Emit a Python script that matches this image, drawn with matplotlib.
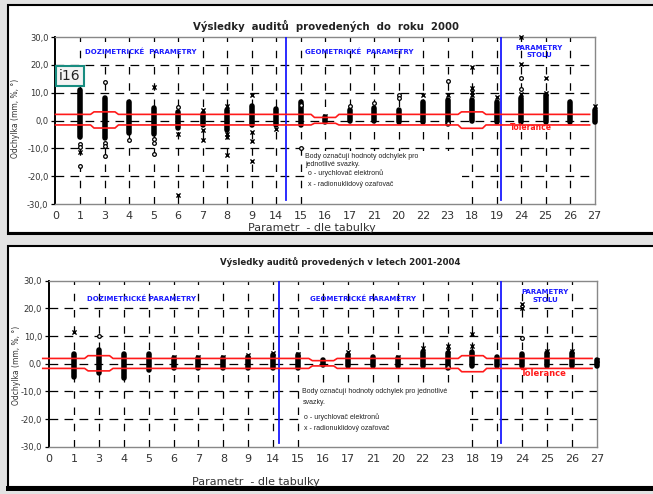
import matplotlib.pyplot as plt
from matplotlib.patches import Rectangle

W, H = 653, 494

labels = ["0", "1", "3", "4", "5", "6", "7", "8", "9", "14", "15", "16",
          "17", "21", "20", "22", "23", "18", "19", "24", "25", "26", "27"]
yticks = [-30, -20, -10, 0, 10, 20, 30]
ytick_labels = ["-30,0", "-20,0", "-10,0", "0,0", "10,0", "20,0", "30,0"]

# --- audits up to 2000 (columns 1..22 = labels[1:]) ---
top_lo = [-5.8, -6.4, -4.6, -5.0, -2.8, -1.6, -3.4, -1.6, -1.6, -1.6, -0.4,
          -0.2, -0.2, -0.4, -0.4, -1.3, -0.2, -0.4, -0.6, -0.4, -0.6, -0.4]
top_hi = [11.0, 8.0, 6.5, 4.6, 3.2, 2.2, 3.8, 5.3, 4.3, 6.5, 1.4,
          3.8, 4.6, 3.8, 6.5, 7.4, 7.4, 6.5, 8.0, 9.2, 6.5, 3.8]
top_o = [(1, -8.6), (1, -9.4), (1, -16.4), (2, 13.9), (2, -8.0), (2, -9.0),
         (2, -12.6), (3, -7.0), (4, -6.5), (4, -8.0), (4, -12.1), (5, 5.0),
         (10, 5.5), (10, -9.8), (12, 5.3), (13, 6.2), (14, 9.2), (14, 8.0),
         (16, 14.3), (16, -1.0), (19, 15.2), (19, 11.3)]
top_x = [(1, -11.2), (4, 11.9), (5, -5.0), (5, -26.8), (6, 3.8), (6, -3.4),
         (6, -7.0), (7, 5.3), (7, -5.0), (7, -6.0), (7, -12.4), (8, 9.2),
         (8, -4.0), (8, -7.4), (8, -14.4), (9, -3.0), (11, 1.7), (15, 9.2),
         (16, 9.2), (17, 19.1), (17, 11.5), (17, 10.3), (17, 9.2), (18, 8.6),
         (19, 30.0), (19, 20.2), (19, 9.4), (20, 15.4), (20, 10.0), (22, 5.3)]
top_tol_hi = [2.2, 3.1, 2.2, 2.2, 2.2, 2.2, 2.2, 2.2, 2.2, 2.2, 1.1,
              2.2, 2.2, 2.2, 2.2, 2.2, 3.1, 2.2, 2.2, 2.2, 2.2, 2.2]
top_tol_lo = [-1.6, -2.7, -1.6, -1.6, -1.6, -1.6, -1.6, -1.6, -1.6, -1.6, -1.0,
              -1.6, -1.6, -1.6, -1.6, -1.6, -2.8, -1.6, -1.6, -1.6, -1.6, -1.6]

# --- audits 2001-2004 ---
bot_lo = [-4.7, -3.5, -5.3, -2.3, -1.7, -1.7, -1.7, -1.7, -1.5, -1.7, -0.5,
          -0.9, -0.9, -0.9, -0.9, -1.5, -0.7, -0.9, -0.9, -0.9, -0.9, -0.9]
bot_hi = [3.4, 4.9, 3.4, 3.4, 1.9, 1.9, 1.9, 2.5, 3.1, 3.1, 1.3,
          3.0, 2.5, 1.9, 4.3, 3.7, 4.3, 2.3, 3.4, 3.7, 3.9, 1.3]
bot_o = [(2, 9.9), (19, 9.2), (16, -1.2)]
bot_x = [(1, 11.6), (5, 2.5), (6, 2.5), (7, 2.5), (8, 3.1), (9, 4.0),
         (10, 3.6), (12, 4.3), (14, 2.5), (15, 5.6), (16, 6.4), (16, 5.0),
         (17, 10.6), (17, 6.4), (19, 21.5), (19, 20.0), (20, 4.6), (21, 4.6),
         (22, 1.3)]
bot_tol_hi = [1.9, 2.9, 1.9, 1.9, 1.9, 1.9, 1.9, 1.9, 1.9, 1.9, 1.1,
              1.9, 1.9, 1.9, 1.9, 1.9, 2.9, 1.9, 1.9, 1.9, 1.9, 1.9]
bot_tol_lo = [-1.7, -2.6, -1.7, -1.7, -1.7, -1.7, -1.7, -1.7, -1.7, -1.7, -0.8,
              -1.7, -1.7, -1.7, -1.7, -1.7, -2.9, -1.7, -1.7, -1.7, -1.7, -1.7]

BLUE = "#1a1aff"
RED = "#ff1a1a"


def fx(x):
    return x / W


def fy(y):
    return 1 - y / H


def tol_path(vals, start, end):
    xs, ys = [start], [vals[0]]
    for i in range(1, len(vals)):
        b = i + 0.5
        if vals[i] != vals[i - 1]:
            xs += [b - 0.07, b + 0.07]
            ys += [vals[i - 1], vals[i]]
    xs.append(end)
    ys.append(vals[-1])
    return xs, ys


def draw(ax, lo, hi, o_pts, x_pts, tol_hi, tol_lo, blue, box, tol_start):
    ax.set_xlim(0, 22)
    ax.set_ylim(-30, 30)
    for y in [-20, -10, 0, 10, 20]:
        ax.axhline(y, color="black", lw=0.9, ls=(0, (7, 5)), zorder=1)
    for i in range(1, 22):
        ax.axvline(i, color="black", lw=0.9, ls=(0, (6, 7)), zorder=1)
    ax.add_patch(Rectangle((box[0], box[2]), box[1] - box[0], box[3] - box[2],
                           facecolor="white", edgecolor="none", zorder=2))
    for b in blue:
        ax.plot([b, b], [-28.5, 30], color=BLUE, lw=1.3, zorder=3)
    cols = list(range(1, 23))
    ax.vlines(cols, lo, hi, color="black", lw=4.0, capstyle="round", zorder=4,
              clip_on=False)
    ax.scatter([p[0] for p in o_pts], [p[1] for p in o_pts], marker="o", s=7,
               facecolors="white", edgecolors="black", linewidths=0.9, zorder=5,
               clip_on=False)
    ax.scatter([p[0] for p in x_pts], [p[1] for p in x_pts], marker="x", s=9,
               color="black", linewidths=1.0, zorder=5, clip_on=False)
    for vals in (tol_hi, tol_lo):
        xs, ys = tol_path(vals, tol_start, 21.8)
        ax.plot(xs, ys, color=RED, lw=1.2, zorder=6, clip_on=False)
    ax.set_xticks(range(23))
    ax.set_xticklabels(labels, fontsize=8, color="#333333")
    ax.set_yticks(yticks)
    ax.set_yticklabels(ytick_labels, fontsize=6, color="#333333")
    ax.tick_params(axis="x", length=0, pad=5)
    ax.tick_params(axis="y", length=3, width=0.9, pad=2)
    for s in ["top", "right", "bottom"]:
        ax.spines[s].set_color("#888888")
        ax.spines[s].set_linewidth(1.0)
    ax.spines["left"].set_linewidth(1.4)


fig = plt.figure(figsize=(W / 100, H / 100), dpi=100)
fig.patch.set_facecolor("#e3e3e3")

# panel frames (behind the axes)
fig.add_artist(Rectangle((fx(7.5), fy(233)), 1.0, (233 - 5) / H,
                         transform=fig.transFigure, facecolor="white",
                         edgecolor="black", lw=1.5, zorder=-10))
fig.add_artist(plt.Line2D([fx(7.5), 1], [fy(233.5), fy(233.5)],
                          transform=fig.transFigure, color="black", lw=2.2,
                          zorder=-9))
fig.add_artist(Rectangle((fx(7.5), fy(487)), 1.0, (487 - 246) / H,
                         transform=fig.transFigure, facecolor="white",
                         edgecolor="black", lw=1.5, zorder=-10))
fig.add_artist(plt.Line2D([fx(7.5), 1], [fy(487.5), fy(487.5)],
                          transform=fig.transFigure, color="black", lw=3.6,
                          zorder=-9))

ax1 = fig.add_axes([fx(55.5), fy(204), (594.5 - 55.5) / W, (204 - 37) / H])
ax2 = fig.add_axes([fx(49), fy(446.7), (597 - 49) / W, (446.7 - 280.7) / H])
for ax in (ax1, ax2):
    ax.patch.set_alpha(0)

draw(ax1, top_lo, top_hi, top_o, top_x, top_tol_hi, top_tol_lo,
     [9.42, 18.19], (10.2, 16.6, -30, -11), 0)
draw(ax2, bot_lo, bot_hi, bot_o, bot_x, bot_tol_hi, bot_tol_lo,
     [9.24, 18.14], (10.1, 16.9, -30, -8), -0.25)

# titles
fig.text(fx(326), fy(25.5), "Výsledky  auditů  provedených  do  roku  2000",
         fontsize=7.3, fontweight="bold", ha="center", va="center", color="#222222")
fig.text(fx(340), fy(262.5), "Výsledky auditů provedených v letech 2001-2004",
         fontsize=6.2, fontweight="bold", ha="center", va="center", color="#222222")

# x labels
fig.text(fx(312), fy(228), "Parametr  - dle tabulky", fontsize=8,
         ha="center", va="center", color="#333333")
fig.text(fx(256), fy(482), "Parametr  - dle tabulky", fontsize=8,
         ha="center", va="center", color="#333333")

# y labels
fig.text(fx(16), fy(118), "Odchylka (mm, %, °)", fontsize=5.5, rotation=90,
         ha="center", va="center", color="#333333")
fig.text(fx(17), fy(365), "Odchylka (mm, %, °)", fontsize=5.5, rotation=90,
         ha="center", va="center", color="#333333")

# blue section labels
blue_kw = dict(fontsize=5, fontweight="bold", color=BLUE, va="center")
fig.text(fx(85), fy(51.5), "DOZIMETRICKÉ  PARAMETRY", ha="left", **blue_kw)
fig.text(fx(305), fy(51.5), "GEOMETRICKÉ  PARAMETRY", ha="left", **blue_kw)
fig.text(fx(539), fy(51.5), "PARAMETRY\nSTOLU", ha="center",
         linespacing=1.1, **blue_kw)
fig.text(fx(87), fy(298.5), "DOZIMETRICKÉ PARAMETRY", ha="left", **blue_kw)
fig.text(fx(310), fy(298.5), "GEOMETRICKÉ PARAMETRY", ha="left", **blue_kw)
fig.text(fx(545), fy(296), "PARAMETRY\nSTOLU", ha="center",
         linespacing=1.5, **blue_kw)

# tolerance labels
fig.text(fx(531), fy(127), "Tolerance", fontsize=5.5, fontweight="bold",
         color=RED, ha="center", va="center")
fig.text(fx(544), fy(373), "Tolerance", fontsize=6, fontweight="bold",
         color=RED, ha="center", va="center")

# notes
note_kw = dict(fontsize=5, family="Liberation Sans", color="#222222",
               ha="left", va="center")
fig.text(fx(305), fy(156.5), "Body označují hodnoty odchylek pro", **note_kw)
fig.text(fx(305), fy(164.5), "jednotlivé svazky.", **note_kw)
fig.text(fx(306), fy(173.5), " o - urychlovač elektronů", **note_kw)
fig.text(fx(306), fy(184), " x - radionuklidový ozařovač", **note_kw)
fig.text(fx(302.5), fy(391.5), "Body označují hodnoty odchylek pro jednotlivé", **note_kw)
fig.text(fx(302.5), fy(402), "svazky.", **note_kw)
fig.text(fx(304), fy(417.5), "o - urychlovač elektronů", **note_kw)
fig.text(fx(304), fy(428), "x - radionuklidový ozařovač", **note_kw)

# slide label box
fig.text(fx(70), fy(76), "i16", fontsize=10, color="#222222", ha="center",
         va="center", zorder=10,
         bbox=dict(boxstyle="square,pad=0.2", facecolor="#f4f4f4",
                   edgecolor="#188c80", lw=1.5))

fig.savefig("out.png", dpi=100, facecolor=fig.get_facecolor())
